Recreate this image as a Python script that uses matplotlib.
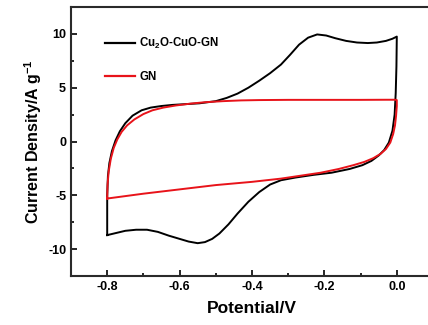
import matplotlib
matplotlib.use("Agg")
import matplotlib.pyplot as plt
import numpy as np

plt.rcParams['font.family'] = ['Liberation Sans', 'DejaVu Sans']
plt.rcParams['font.weight'] = 'bold'
plt.rcParams['mathtext.fontset'] = 'custom'
plt.rcParams['mathtext.rm'] = 'Liberation Sans:bold'
plt.rcParams['mathtext.bf'] = 'Liberation Sans:bold'
plt.rcParams['mathtext.default'] = 'bf'

# Cu2O-CuO-GN cyclic voltammogram (closed loop)
cu_x = [-0.800, -0.800, -0.798, -0.794, -0.787, -0.777, -0.765, -0.750, -0.730, -0.705,
        -0.680, -0.650, -0.620, -0.580, -0.545, -0.500, -0.470, -0.440, -0.410, -0.380,
        -0.350, -0.320, -0.295, -0.270, -0.245, -0.220, -0.195, -0.170, -0.140, -0.110,
        -0.080, -0.055, -0.030, -0.012, 0.000,
        -0.001, -0.003, -0.006, -0.012, -0.022, -0.035, -0.050, -0.070, -0.095, -0.130,
        -0.180, -0.230, -0.280, -0.320, -0.350, -0.380, -0.410, -0.440, -0.465, -0.490,
        -0.510, -0.530, -0.550, -0.575, -0.600, -0.630, -0.660, -0.690, -0.720, -0.750,
        -0.775, -0.800]
cu_y = [-8.70, -5.00, -3.20, -2.00, -0.90, 0.10, 0.95, 1.70, 2.40, 2.90,
        3.15, 3.30, 3.40, 3.48, 3.55, 3.75, 4.05, 4.45, 5.00, 5.65,
        6.35, 7.15, 8.05, 9.00, 9.65, 9.95, 9.85, 9.60, 9.35, 9.20,
        9.15, 9.20, 9.35, 9.55, 9.75,
        7.00, 4.50, 2.50, 1.00, -0.10, -0.80, -1.30, -1.80, -2.20, -2.55,
        -2.90, -3.10, -3.35, -3.60, -4.00, -4.70, -5.60, -6.70, -7.70, -8.55,
        -9.05, -9.35, -9.45, -9.30, -9.05, -8.75, -8.40, -8.20, -8.20, -8.30,
        -8.50, -8.70]

# GN cyclic voltammogram (closed loop)
gn_x = [-0.800, -0.799, -0.796, -0.790, -0.782, -0.772, -0.760, -0.745, -0.725, -0.700,
        -0.675, -0.645, -0.610, -0.570, -0.530, -0.480, -0.430, -0.380, -0.300, -0.200,
        -0.100, -0.030, -0.005, 0.000,
        0.000, -0.002, -0.005, -0.010, -0.018, -0.030, -0.045, -0.065, -0.090, -0.120,
        -0.160, -0.210, -0.260, -0.320, -0.400, -0.500, -0.600, -0.700, -0.800]
gn_y = [-5.30, -4.00, -2.80, -1.60, -0.60, 0.20, 0.90, 1.50, 2.05, 2.55,
        2.90, 3.15, 3.35, 3.52, 3.65, 3.75, 3.82, 3.85, 3.87, 3.87,
        3.87, 3.88, 3.88, 3.85,
        3.30, 2.40, 1.50, 0.70, -0.10, -0.70, -1.15, -1.55, -1.90, -2.20,
        -2.55, -2.90, -3.15, -3.45, -3.75, -4.05, -4.45, -4.85, -5.30]

labels = [r'Cu$_2$O-CuO-GN', 'GN']
colors = ['black', '#e8131a']
xticks = [-0.8, -0.6, -0.4, -0.2, 0.0]
yticks = [-10, -5, 0, 5, 10]

fig = plt.figure(figsize=(4.28, 3.25), dpi=100)
ax = fig.add_axes([71/428, 1 - 276/325, 362/428, 269/325])

ax.plot(cu_x, cu_y, color=colors[0], lw=1.4, label=labels[0])
ax.plot(gn_x, gn_y, color=colors[1], lw=1.4, label=labels[1])

ax.set_xlim(-0.9, 0.1)
ax.set_ylim(-12.5, 12.5)
ax.set_xticks(xticks)
ax.set_xticklabels(['-0.8', '-0.6', '-0.4', '-0.2', '0.0'])
ax.set_yticks(yticks)
ax.set_yticklabels(['-10', '-5', '0', '5', '10'])
ax.set_xticks([-0.7, -0.5, -0.3, -0.1], minor=True)
ax.set_yticks([-7.5, -2.5, 2.5, 7.5], minor=True)
ax.tick_params(which='both', direction='in', labelsize=9, width=1.2)
ax.tick_params(which='major', length=4)
ax.tick_params(which='minor', length=2.5)
for lab in ax.get_xticklabels() + ax.get_yticklabels():
    lab.set_fontweight('bold')
for s in ax.spines.values():
    s.set_linewidth(1.5)
    s.set_color('#2a2a2a')

ax.set_xlabel('Potential/V', fontsize=12.5, fontweight='bold', labelpad=6)
ax.set_ylabel(r'Current Density/A g$^{-1}$', fontsize=11.5, fontweight='bold', labelpad=3)

leg = ax.legend(loc='upper left', bbox_to_anchor=(0.08, 0.91), frameon=False,
                fontsize=8.3, handlelength=2.6, handletextpad=0.4, labelspacing=1.75,
                borderaxespad=0)
for t in leg.get_texts():
    t.set_fontweight('bold')
for h in leg.get_lines():
    h.set_linewidth(1.6)

fig.savefig('out.png', dpi=100)
